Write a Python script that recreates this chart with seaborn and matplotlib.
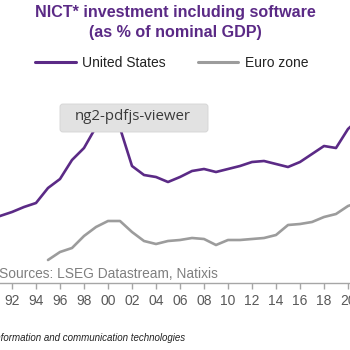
import matplotlib
matplotlib.use("Agg")
import matplotlib.pyplot as plt
from matplotlib.patches import FancyBboxPatch
from matplotlib.lines import Line2D
from matplotlib import font_manager
import seaborn as sns
import pandas as pd

# ---- data (% of nominal GDP) ----
us_years = list(range(1990, 2022))
us_values = [2.26, 2.34, 2.42, 2.52, 2.60, 2.90, 3.08, 3.46, 3.70, 4.12,
             4.42, 4.10, 3.34, 3.16, 3.12, 3.02, 3.12, 3.24, 3.28, 3.22,
             3.28, 3.34, 3.42, 3.44, 3.38, 3.32, 3.42, 3.58, 3.74, 3.70,
             4.08, 4.30]
ez_years = list(range(1995, 2022))
ez_values = [1.46, 1.62, 1.70, 1.94, 2.12, 2.24, 2.24, 2.02, 1.84, 1.78,
             1.84, 1.86, 1.90, 1.88, 1.76, 1.86, 1.86, 1.88, 1.90, 1.96,
             2.16, 2.18, 2.22, 2.32, 2.38, 2.54, 2.62]
tick_years = list(range(1992, 2022, 2))
tick_labels = [f"{y % 100:02d}" for y in tick_years]
series_names = ["United States", "Euro zone"]
title_lines = ["NICT* investment including software", "(as % of nominal GDP)"]
source_text = "Sources: LSEG Datastream, Natixis"
footnote_text = "(*) New information and communication technologies"
tooltip_text = "ng2-pdfjs-viewer"

df = pd.concat([
    pd.DataFrame({"year": us_years, "value": us_values, "series": series_names[0]}),
    pd.DataFrame({"year": ez_years, "value": ez_values, "series": series_names[1]}),
])

PURPLE = "#5B2A86"
GREY = "#9C9C9C"
W = H = 350.0

def fx(x):
    return x / W

def fy(y):
    return 1 - y / H

sns.set_theme(style="white")
plt.rcParams["font.family"] = ["Liberation Sans", "DejaVu Sans"]

installed = {f.name for f in font_manager.fontManager.ttflist}
has_narrow = "Liberation Sans Narrow" in installed

fig = plt.figure(figsize=(3.5, 3.5), dpi=100)
# axes: year 1990 at px -12, 2021 at px 360; value 1.0 at px 283, 5.46 at px 60
ax = fig.add_axes([fx(-12), fy(283), (360 + 12) / W, (283 - 60) / H])
sns.lineplot(data=df, x="year", y="value", hue="series", hue_order=series_names,
             palette=[PURPLE, GREY], linewidth=1.9, ax=ax, legend=False)
ax.set_xlim(1990, 2021)
ax.set_ylim(1.0, 5.46)
ax.set_xlabel("")
ax.set_ylabel("")
ax.set_yticks([])
ax.set_xticks(tick_years)
ax.set_xticklabels(tick_labels)
for s in ["top", "left", "right"]:
    ax.spines[s].set_visible(False)
ax.spines["bottom"].set_color("#A6A6A6")
ax.spines["bottom"].set_linewidth(1.0)
ax.tick_params(axis="x", direction="out", length=4, width=1.0, color="#A6A6A6",
               labelsize=10, labelcolor="#595959", pad=4, bottom=True)
ax.patch.set_alpha(0)

# title
fig.text(fx(175), fy(13), title_lines[0], ha="center", va="center",
         fontsize=11.6, fontweight="bold", color=PURPLE)
fig.text(fx(175), fy(32), title_lines[1], ha="center", va="center",
         fontsize=11.6, fontweight="bold", color=PURPLE)

# legend
handles = [Line2D([], [], color=PURPLE, lw=2.2), Line2D([], [], color=GREY, lw=2.2)]
fig.legend(handles, series_names, loc="center", bbox_to_anchor=(fx(172), fy(63)),
           ncol=2, frameon=False, fontsize=10, handlelength=2.9, handletextpad=0.5,
           columnspacing=2.3, labelcolor="#222222")

# sources
fig.text(fx(-1), fy(274), source_text, ha="left", va="center", fontsize=9.9, color="#7F7F7F")

# footnote
if has_narrow:
    fig.text(fx(185), fy(338), footnote_text, ha="right", va="center", fontsize=8.2,
             style="italic", color="#222222",
             family=["Liberation Sans Narrow", "DejaVu Sans"])
else:
    fig.text(fx(185), fy(338), footnote_text, ha="right", va="center", fontsize=7.0,
             style="italic", color="#222222", family=["Liberation Sans", "DejaVu Sans"])

# tooltip overlay
box = FancyBboxPatch((fx(60), fy(132)), fx(208) - fx(60), fy(104) - fy(132),
                     boxstyle="round,pad=0,rounding_size=0.008", transform=fig.transFigure,
                     facecolor="#E2E2E2", edgecolor="#D4D4D4", linewidth=0.6, zorder=10)
fig.patches.append(box)
fig.text(fx(133), fy(117), tooltip_text, ha="center", va="center", fontsize=10.8,
         color="#3A3A3A", zorder=11, family=["Open Sans", "DejaVu Sans"])

fig.savefig("out.png", dpi=100)
